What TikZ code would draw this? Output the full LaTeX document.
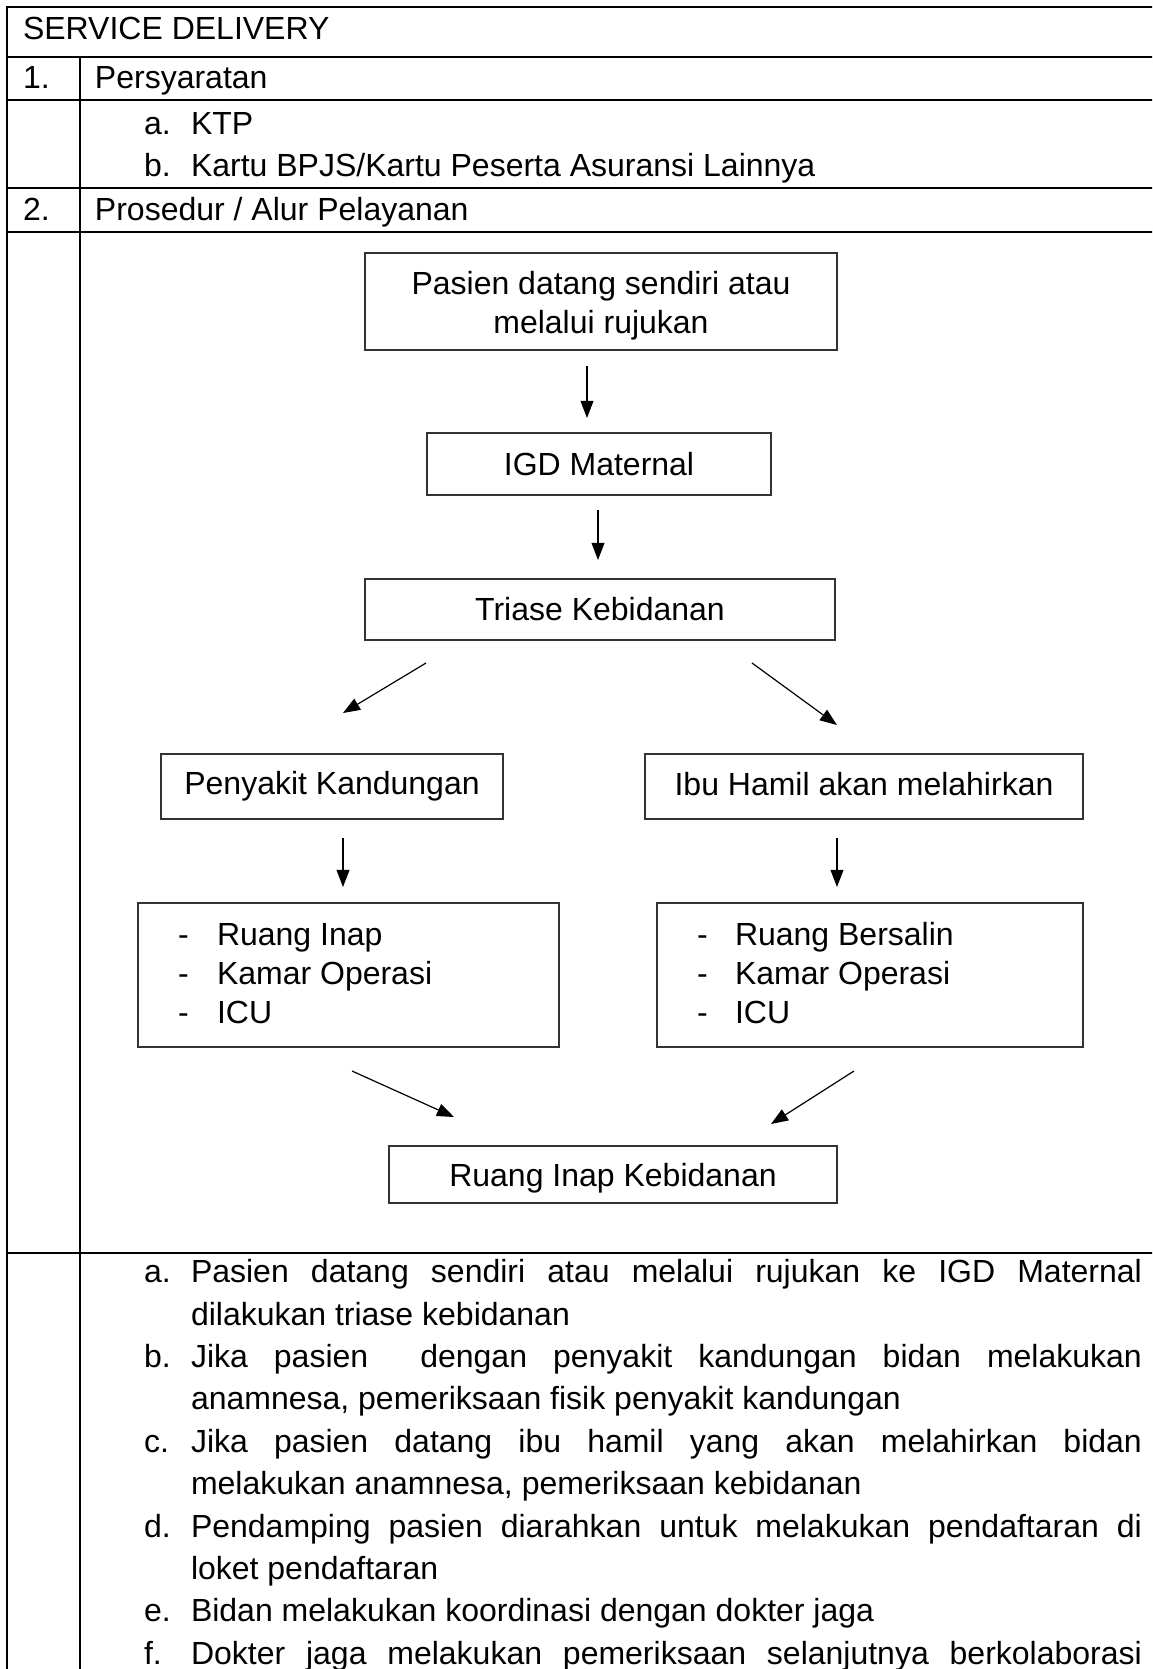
\documentclass[tikz,border=0pt]{standalone}
\usepackage{fontspec}
\setmainfont{Liberation Sans}
\usetikzlibrary{arrows.meta,fit}
\newcommand\fs{\fontsize{12pt}{14.6pt}\selectfont}
\newcommand\jl[1]{\makebox[356.6pt][s]{#1}}
\begin{document}
\begin{tikzpicture}[x=0.375pt,y=-0.375pt,
  tline/.style={line width=0.8pt},
  fbox/.style={draw=black!80,line width=0.5pt,inner sep=0pt,outer sep=0pt},
  ftxt/.style={inner sep=0pt,outer sep=0pt,font=\fs,align=center},
  arr/.style={line width=0.45pt,-{Triangle[length=6.4pt,width=4.8pt]}},
  txt/.style={anchor=base west,inner sep=0pt,outer sep=0pt,font=\fs}]
\useasboundingbox (0,0) rectangle (1152,1669);
\clip (0,0) rectangle (1152,1669);
% table rules
\draw[tline] (7,1690) -- (7,7) -- (1170,7);
\foreach \yy in {57,100,188,232,1253} \draw[tline] (7,\yy) -- (1170,\yy);
\draw[tline] (80,57) -- (80,1690);
% table texts
\node[txt] (hdr) at (23,39) {SERVICE DELIVERY};
\node[txt] (n1) at (23,88) {1.};
\node[txt] (t1) at (95,88) {Persyaratan};
\node[txt] (ia) at (144,134) {a.};
\node[txt] (ta) at (191,134) {KTP};
\node[txt] (ib) at (144,176) {b.};
\node[txt] (tb) at (191,176) {Kartu BPJS/Kartu Peserta Asuransi Lainnya};
\node[txt] (n2) at (23,220) {2.};
\node[txt] (t2) at (95,220) {Prosedur / Alur Pelayanan};
% flowchart boxes
\node[fbox,fit={(365,253)(837,350)}] (b1) {};
\node[fbox,fit={(427,433)(771,495)}] (b2) {};
\node[fbox,fit={(365,579)(835,640)}] (b3) {};
\node[fbox,fit={(161,754)(503,819)}] (pk) {};
\node[fbox,fit={(645,754)(1083,819)}] (ih) {};
\node[fbox,fit={(138,903)(559,1047)}] (lk) {};
\node[fbox,fit={(657,903)(1083,1047)}] (rk) {};
\node[fbox,fit={(389,1146)(837,1203)}] (ri) {};
% box texts
\node[ftxt] (b1t) at ([yshift=-1.6pt]b1.center) {Pasien datang sendiri atau\\melalui rujukan};
\node[ftxt] (b2t) at (b2.center) {IGD Maternal};
\node[ftxt] (b3t) at (b3.center) {Triase Kebidanan};
\node[ftxt] (pkt) at (pk.center) {Penyakit Kandungan};
\node[ftxt] (iht) at ([yshift=0.8pt]ih.center) {Ibu Hamil akan melahirkan};
\node[ftxt] (rit) at ([yshift=-1.5pt]ri.center) {Ruang Inap Kebidanan};
% list texts
\node[txt] (ld1) at (178,945) {-};
\node[txt] (lt1) at (217,945) {Ruang Inap};
\node[txt] (ld2) at (178,984) {-};
\node[txt] (lt2) at (217,984) {Kamar Operasi};
\node[txt] (ld3) at (178,1023) {-};
\node[txt] (lt3) at (217,1023) {ICU};
\node[txt] (rd1) at (697,945) {-};
\node[txt] (rt1) at (735,945) {Ruang Bersalin};
\node[txt] (rd2) at (697,984) {-};
\node[txt] (rt2) at (735,984) {Kamar Operasi};
\node[txt] (rd3) at (697,1023) {-};
\node[txt] (rt3) at (735,1023) {ICU};
% arrows
\draw[arr] ([shift={(-14,16)}]b1.south) -- ([shift={(-12,-15)}]b2.north);
\draw[arr] ([shift={(-1,15)}]b2.south) -- ([shift={(-2,-19)}]b3.north);
\draw[arr] ([shift={(-174,23)}]b3.south) -- ([shift={(11,-41)}]pk.north);
\draw[arr] ([shift={(152,23)}]b3.south) -- ([shift={(-27,-29)}]ih.north);
\draw[arr] ([shift={(11,19)}]pk.south) -- ([shift={(-5.5,-16)}]lk.north);
\draw[arr] ([shift={(-27,19)}]ih.south) -- ([shift={(-33,-16)}]rk.north);
\draw[arr] ([shift={(3.5,24)}]lk.south) -- ([shift={(-159,-29)}]ri.north);
\draw[arr] ([shift={(-16,24)}]rk.south) -- ([shift={(158,-22)}]ri.north);
% numbered description
\node[txt] (ma) at (144,1282.7) {a.};
\node[txt] (la1) at (191,1282.7) {\jl{Pasien datang sendiri atau melalui rujukan ke IGD Maternal}};
\node[txt] (la2) at (191,1325.1) {dilakukan triase kebidanan};
\node[txt] (mb) at (144,1367.5) {b.};
\node[txt] (lb1) at (191,1367.5) {\jl{Jika pasien\ \ dengan penyakit kandungan bidan melakukan}};
\node[txt] (lb2) at (191,1409.9) {anamnesa, pemeriksaan fisik penyakit kandungan};
\node[txt] (mc) at (144,1452.3) {c.};
\node[txt] (lc1) at (191,1452.3) {\jl{Jika pasien datang ibu hamil yang akan melahirkan bidan}};
\node[txt] (lc2) at (191,1494.7) {melakukan anamnesa, pemeriksaan kebidanan};
\node[txt] (md) at (144,1537.1) {d.};
\node[txt] (ld1x) at (191,1537.1) {\jl{Pendamping pasien diarahkan untuk melakukan pendaftaran di}};
\node[txt] (ld2x) at (191,1579.5) {loket pendaftaran};
\node[txt] (me) at (144,1621.9) {e.};
\node[txt] (le1) at (191,1621.9) {Bidan melakukan koordinasi dengan dokter jaga};
\node[txt] (mf) at (144,1664.3) {f.};
\node[txt] (lf1) at (191,1664.3) {\jl{Dokter jaga melakukan pemeriksaan selanjutnya berkolaborasi}};
\end{tikzpicture}
\end{document}
